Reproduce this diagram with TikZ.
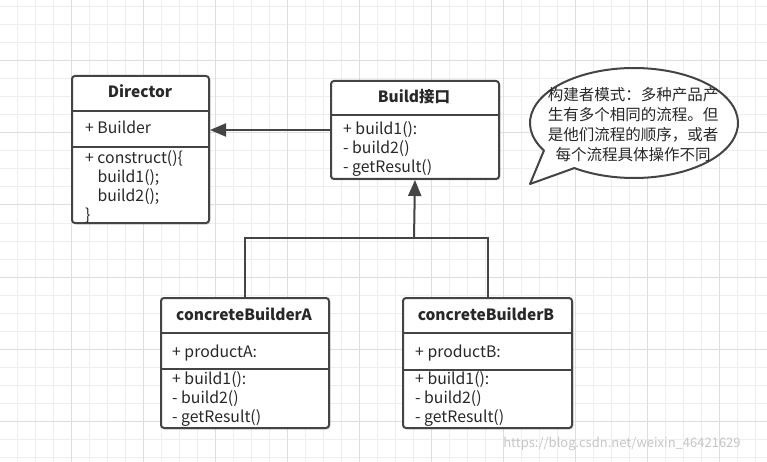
\documentclass[tikz,border=0pt]{standalone}
\usepackage{fontspec}
\setmainfont{Noto Sans CJK SC}
\usetikzlibrary{arrows.meta, positioning, shapes.geometric, shadows, calc}
\definecolor{umlline}{RGB}{68,68,68}
\definecolor{umltext}{RGB}{40,40,40}
\definecolor{gridminor}{RGB}{238,238,238}
\definecolor{gridmajor}{RGB}{222,222,222}

\begin{document}
\begin{tikzpicture}[
    x=1pt, y=-1pt,
    cls/.style={rectangle, rounded corners=3pt, draw=umlline, line width=2pt, fill=white,
                anchor=north west, inner sep=0pt,
                drop shadow={shadow xshift=1.5pt, shadow yshift=-1.5pt, opacity=0.25}},
    divider/.style={draw=umlline, line width=2pt},
    ctitle/.style={anchor=base, inner sep=0pt, text=umltext,
                   font=\fontsize{15.5}{19}\selectfont\bfseries},
    mem/.style={anchor=base west, align=left, inner sep=0pt, text=umltext,
                font=\fontsize{15.8}{19}\selectfont},
    arr/.style={-{Triangle[length=16pt, width=13pt]}, line width=2pt, draw=umlline},
    link/.style={line width=2pt, draw=umlline},
    bubble/.style={draw=umlline, line width=2pt, fill=white, line join=round},
]
    % grid background
    \useasboundingbox (0,0) rectangle (767,462);
    \fill[white] (0,0) rectangle (767,462);
    \foreach \gx in {17,35,...,755} \draw[gridminor, line width=1pt] (\gx,0) -- (\gx,462);
    \foreach \gy in {7,25,...,457} \draw[gridminor, line width=1pt] (0,\gy) -- (767,\gy);
    \foreach \gx in {71,143,...,719} \draw[gridmajor, line width=1pt] (\gx,0) -- (\gx,462);
    \foreach \gy in {61,133,...,421} \draw[gridmajor, line width=1pt] (0,\gy) -- (767,\gy);

    % Director (multi-line texts sit on the baseline of their last line)
    \node[cls, minimum width=137pt, minimum height=147pt] (director) at (71,75) {};
    \draw[divider] (director.west |- 0,111) -- (director.east |- 0,111);
    \draw[divider] (director.west |- 0,147) -- (director.east |- 0,147);
    \node[ctitle] (directortitle) at (140,98) {Director};
    \node[mem] (directorattr) at (85,134) {+ Builder};
    \node[mem] (directorops) at (85,221) {+ construct()\{\\\phantom{+ }build1();\\\phantom{+ }build2();\\\}};

    % Build interface
    \node[cls, minimum width=168pt, minimum height=98pt] (build) at (330,80) {};
    \draw[divider] (build.west |- 0,115) -- (build.east |- 0,115);
    \node[ctitle] (buildtitle) at (414,103) {Build接口};
    \node[mem] (buildops) at (343,173) {+ build1():\\- build2()\\- getResult()};

    % concrete builders
    \node[cls, minimum width=168pt, minimum height=130pt] (cba) at (160,297) {};
    \draw[divider] (cba.west |- 0,333) -- (cba.east |- 0,333);
    \draw[divider] (cba.west |- 0,369) -- (cba.east |- 0,369);
    \node[ctitle] (cbatitle) at (244,320) {concreteBuilderA};
    \node[mem] (cbaattr) at (172,357) {+ productA:};
    \node[mem] (cbaops) at (172,422) {+ build1():\\- build2()\\- getResult()};

    \node[cls, minimum width=169pt, minimum height=130pt] (cbb) at (402,297) {};
    \draw[divider] (cbb.west |- 0,333) -- (cbb.east |- 0,333);
    \draw[divider] (cbb.west |- 0,370) -- (cbb.east |- 0,370);
    \node[ctitle] (cbbtitle) at (486,320) {concreteBuilderB};
    \node[mem] (cbbattr) at (415,357) {+ productB:};
    \node[mem] (cbbops) at (415,422) {+ build1():\\- build2()\\- getResult()};

    % connectors
    \draw[arr] (build.west) -- (build.west -| director.east);
    \coordinate (fork) at (414,238);
    \draw[link] (cba.north) |- (fork) -| (cbb.north);
    \draw[arr] (fork) -- (build.south);

    % note bubble
    \coordinate (note) at (634,123);
    \coordinate (tip) at (530,184);
    \draw[bubble] (tip) -- ($(note)+(150:104 and 55)$)
        arc[start angle=150, end angle=485, x radius=104, y radius=55] -- cycle;
    \node[align=center, inner sep=0pt, text=umltext, font=\fontsize{15.5}{20}\selectfont]
        (notetext) at (633,125) {构建者模式：多种产品产\\生有多个相同的流程。但\\是他们流程的顺序，或者\\每个流程具体操作不同};

    \node[text=gray!45, inner sep=0pt, font=\fontsize{13}{13}\selectfont]
        (watermark) at (622,444) {https://blog.csdn.net/weixin\_46421629};
\end{tikzpicture}
\end{document}
